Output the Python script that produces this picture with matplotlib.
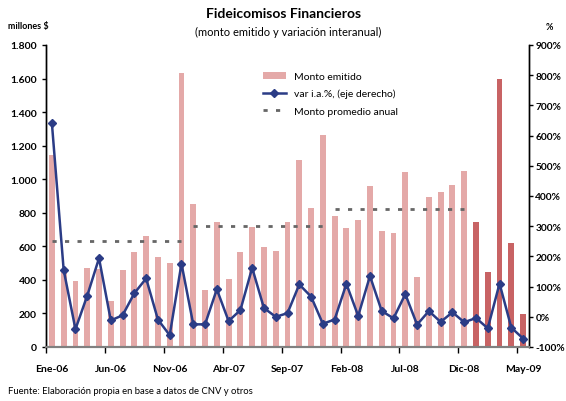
import matplotlib
matplotlib.use("Agg")
import matplotlib.pyplot as plt
import numpy as np
from matplotlib.ticker import FuncFormatter

plt.rcParams['font.family'] = ['Lato', 'DejaVu Sans']

# monto emitido (millones $), Ene-06 .. May-09
monto = [1143, 460, 392, 469, 465, 272, 457, 565, 660, 535, 499, 1635,
         853, 338, 746, 406, 567, 716, 595, 575, 746, 1114, 827, 1263,
         780, 708, 756, 961, 692, 680, 1042, 418, 895, 925, 967, 1050,
         746, 446, 1599, 621, 197]
# variacion interanual (%)
var_ia = [641, 155, -41, 70, 194, -12, 5, 78, 127, -9, -61, 176,
          -25, -25, 91, -14, 22, 162, 29, 0, 12, 107, 67, -23,
          -9, 109, 3, 135, 19, -5, 75, -26, 19, -17, 15, -18,
          -4, -38, 110, -36, -72]
# monto promedio anual 2006, 2007, 2008
prom_anual = [630, 724, 820]
tick_labels = ['Ene-06', 'Jun-06', 'Nov-06', 'Abr-07', 'Sep-07',
               'Feb-08', 'Jul-08', 'Dic-08', 'May-09']

n = len(monto)
x = np.arange(n)
colors = ['#E4A9A8'] * 36 + ['#C86364'] * 5

fig = plt.figure(figsize=(5.66, 4.02), dpi=100)
ax = fig.add_axes([46 / 566, 1 - 348 / 402, 483 / 566, 302 / 402])
ax2 = ax.twinx()

bars = ax.bar(x, monto, width=0.5, color=colors, zorder=2, label='Monto emitido')
for k, p in enumerate(prom_anual):
    ln_avg, = ax.plot([12 * k, 12 * k + 11], [p, p], color='#666666', lw=2,
                      dashes=(1.5, 3), zorder=3, label='Monto promedio anual')

ln, = ax2.plot(x, var_ia, color='#2B3C86', lw=1.8, marker='D', ms=4.5,
               zorder=4, label='var i.a.%, (eje derecho)')

ax.set_xlim(-0.5, n - 0.5)
ax.set_ylim(0, 1800)
ax2.set_ylim(-100, 900)
ax.set_yticks(np.arange(0, 1801, 200))
ax.yaxis.set_major_formatter(FuncFormatter(lambda v, p: f'{int(v):,}'.replace(',', '.')))
ax2.set_yticks(np.arange(-100, 901, 100))
ax2.yaxis.set_major_formatter(FuncFormatter(lambda v, p: f'{int(v)}%'))

ax.set_xticks(np.arange(0, n, 5))
ax.set_xticklabels(tick_labels, fontweight='bold', fontsize=7.5)
ax.set_xticks(np.arange(-0.5, n, 5), minor=True)
ax.tick_params(axis='x', which='major', length=0, pad=12)
ax.tick_params(axis='x', which='minor', length=4, width=1, direction='out')
ax.tick_params(axis='y', labelsize=7.5, length=3, width=1, direction='out')
ax2.tick_params(axis='y', labelsize=7.3, length=3, width=1, direction='out', pad=1.5)
for lab in ax.get_yticklabels() + ax2.get_yticklabels():
    lab.set_fontweight('bold')

for a in (ax, ax2):
    a.spines['top'].set_visible(False)
    a.spines['left'].set_linewidth(1)
    a.spines['right'].set_linewidth(1)
    a.spines['bottom'].set_color('#808080')
    a.spines['bottom'].set_linewidth(1.5)
ax.set_zorder(ax2.get_zorder() - 1)
ax.patch.set_visible(False)

ax2.legend([bars, ln, ln_avg],
           ['Monto emitido', 'var i.a.%, (eje derecho)', 'Monto promedio anual'],
           loc='upper left', bbox_to_anchor=(0.44, 0.925), frameon=False,
           fontsize=7.5, handlelength=2.2, labelspacing=0.75, borderaxespad=0)

fig.text(284 / 566, 1 - 14 / 402, 'Fideicomisos Financieros', ha='center', va='center',
         fontsize=10, fontweight='bold')
fig.text(288 / 566, 1 - 32 / 402, '(monto emitido y variación interanual)', ha='center',
         va='center', fontsize=8)
fig.text(8 / 566, 1 - 27 / 402, 'millones $', ha='left', va='center', fontsize=6.5,
         fontweight='bold')
fig.text(549 / 566, 1 - 27 / 402, '%', ha='center', va='center', fontsize=6.5,
         fontweight='bold')
fig.text(8 / 566, 1 - 392 / 402, 'Fuente: Elaboración propia en base a datos de CNV y otros',
         ha='left', va='center', fontsize=6.8)

fig.savefig('out.png', dpi=100)
